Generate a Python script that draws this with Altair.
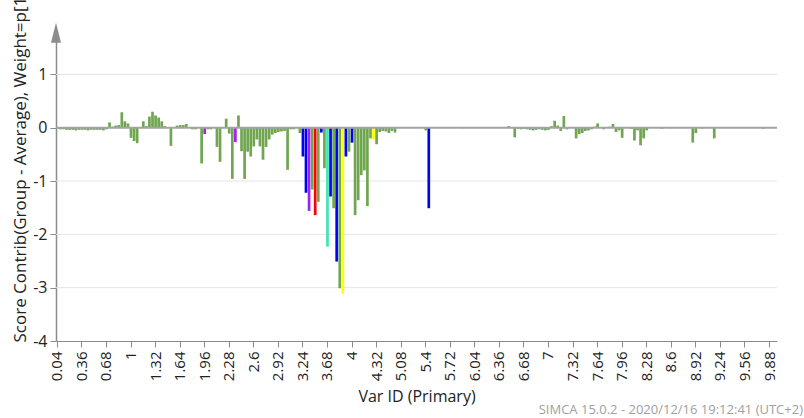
import altair as alt
import pandas as pd

# ---------------- data ----------------
tick_labels = ["0.04", "0.36", "0.68", "1", "1.32", "1.64", "1.96", "2.28", "2.6", "2.92",
               "3.24", "3.68", "4", "4.32", "5.08", "5.4", "5.72", "6.04", "6.36", "6.68",
               "7", "7.32", "7.64", "7.96", "8.28", "8.6", "8.92", "9.24", "9.56", "9.88"]

values = [
    -0.02, -0.03, -0.03, -0.04, -0.04, -0.04, -0.05, -0.04,
    -0.04, -0.04, -0.05, -0.04, -0.04, -0.04, -0.04, -0.05,
    -0.03, 0.10, 0.02, 0.04, 0.05, 0.29, 0.12, 0.08,
    -0.19, -0.25, -0.29, 0.00, 0.12, 0.03, 0.21, 0.30,
    0.23, 0.19, 0.12, 0.03, 0.00, -0.34, 0.01, 0.04,
    0.05, 0.05, 0.07, 0.00, -0.03, -0.03, 0.00, -0.67,
    -0.12, -0.03, -0.03, 0.00, -0.36, -0.64, 0.00, 0.17,
    -0.11, -0.96, -0.27, 0.23, -0.44, -0.96, -0.45, -0.54,
    -0.35, -0.22, -0.35, -0.60, -0.36, -0.22, -0.13, -0.10,
    -0.08, -0.07, -0.06, -0.79, -0.03, -0.03, 0.00, -0.10,
    -0.54, -1.22, -1.56, -1.16, -1.64, -1.39, -0.09, -0.76,
    -2.23, -1.29, -1.51, -2.51, -3.01, -3.11, -0.54, -0.45,
    -0.28, -1.64, -1.36, -0.89, -0.80, -1.47, -0.20, -0.22,
    -0.31, -0.08, -0.06, -0.07, -0.10, -0.06, -0.09, 0.00,
    0.00, 0.00, 0.00, 0.00, 0.00, 0.00, 0.00, 0.00,
    -0.05, -1.51, 0.00, 0.00, 0.00, 0.00, 0.00, 0.00,
    0.00, 0.00, 0.00, 0.00, -0.01, 0.00, 0.00, 0.00,
    0.00, 0.00, 0.00, 0.00, 0.00, 0.00, 0.00, 0.00,
    0.00, 0.00, 0.00, 0.03, 0.00, -0.18, -0.02, -0.03,
    -0.02, -0.03, -0.04, -0.05, -0.04, -0.03, -0.04, -0.05,
    -0.04, 0.03, 0.13, 0.04, -0.06, 0.22, -0.03, 0.00,
    0.00, -0.20, -0.12, -0.10, -0.06, -0.05, -0.03, 0.02,
    0.08, 0.01, -0.03, 0.00, 0.02, 0.07, -0.08, -0.05,
    -0.19, 0.00, 0.00, -0.02, -0.24, -0.05, -0.33, -0.20,
    -0.05, 0.00, 0.00, 0.00, 0.00, -0.02, 0.00, 0.00,
    -0.01, 0.00, 0.00, 0.00, 0.00, 0.00, 0.00, -0.28,
    -0.10, 0.00, -0.02, 0.00, 0.00, 0.00, -0.20, 0.00,
    0.00, 0.00, 0.00, 0.00, 0.00, 0.00, 0.00, 0.00,
    0.00, 0.00, 0.00, 0.00, 0.00, 0.00, -0.02, 0.00,
    0.00, 0.00, 0.00,
]

highlight_index = [48, 58, 80, 81, 82, 84, 86, 88, 89, 91, 93, 94, 96, 103, 121]
highlight_color = ["purple", "purple", "blue", "blue", "purple", "red", "blue", "cyan",
                   "blue", "blue", "yellow", "blue", "blue", "yellow", "blue"]

color_names = ["green", "blue", "purple", "red", "cyan", "yellow"]
color_values = ["#6fa64f", "#0000ff", "#a020f0", "#ff0000", "#3de6b4", "#ffff00"]

grid_values = [1, -1, -2, -3]
y_tick_values = [-4, -3.5, -3, -2.5, -2, -1.5, -1, -0.5, 0, 0.5, 1, 1.5]
footer = "SIMCA 15.0.2 - 2020/12/16 19:12:41 (UTC+2)"

# -------------- build table --------------
ids = []
for k, start in enumerate(tick_labels):
    count = 8 if k < len(tick_labels) - 1 else 3
    for j in range(count):
        ids.append(f"{round(float(start) + 0.04 * j, 2):g}")

groups = ["green"] * len(values)
for i, c in zip(highlight_index, highlight_color):
    groups[i] = c

df = pd.DataFrame({"id": ids, "value": values, "group": groups})

W, H = 721, 301
FONT = "Open Sans"
yscale = alt.Scale(domain=[-4, 1.645], nice=False, zero=False)

x_enc = alt.X(
    "id:N", sort=ids,
    scale=alt.Scale(paddingInner=0.12, paddingOuter=0),
    axis=alt.Axis(
        values=tick_labels, labelAngle=-90, labelFontSize=15, labelFont=FONT,
        labelColor="#222222", tickColor="#8c8c8c", domainColor="#8c8c8c",
        tickSize=6, labelPadding=4, title="Var ID (Primary)", titleFont=FONT,
        titleFontSize=16, titleFontWeight="normal", titleColor="#222222",
        titleY=60, titleBaseline="alphabetic", labelOverlap=False,
    ),
)

y_axis = alt.Axis(
    values=y_tick_values,
    labelExpr="datum.value % 1 === 0 ? '' + datum.value : ''",
    labelFontSize=16, labelFont=FONT, labelColor="#222222",
    tickColor="#8c8c8c", domainColor="#8c8c8c", domainWidth=1.5, tickSize=6,
    labelPadding=3, grid=False,
    title="Score Contrib(Group - Average), Weight=p[1]",
    titleFont=FONT, titleFontSize=17, titleFontWeight="normal", titleColor="#222222",
    titleAngle=-90, titleAlign="left", titleBaseline="alphabetic",
    titleX=-31, titleY=302,
)

grid = alt.Chart(pd.DataFrame({"y": grid_values})).mark_rule(
    color="#e4e4e4", strokeWidth=1
).encode(y=alt.Y("y:Q", scale=yscale, axis=y_axis))

bars = alt.Chart(df).mark_bar().encode(
    x=x_enc,
    y=alt.Y("value:Q", scale=yscale, axis=y_axis),
    color=alt.Color("group:N", scale=alt.Scale(domain=color_names, range=color_values), legend=None),
)

zero = alt.Chart(pd.DataFrame({"y": [0]})).mark_rule(
    color="#a3a3a3", strokeWidth=2
).encode(y=alt.Y("y:Q", scale=yscale))

arrow = alt.Chart(pd.DataFrame({"y": [1.78]})).mark_point(
    shape="M0,-1L0.5,1L-0.5,1Z", filled=True, size=400, color="#8c8c8c", opacity=1
).encode(x=alt.value(0), y=alt.Y("y:Q", scale=yscale))

foot = alt.Chart(pd.DataFrame({"t": [footer]})).mark_text(
    align="right", baseline="alphabetic", fontSize=13, font=FONT, color="#a0a0a0"
).encode(text="t:N", x=alt.value(747), y=alt.value(374))

chart = alt.layer(grid, bars, zero, arrow, foot).properties(
    width=W, height=H,
    autosize=alt.AutoSizeParams(type="none"),
    padding={"left": 56, "top": 40, "right": 27, "bottom": 77},
    background="white",
).configure_view(stroke=None)

chart.save("out.html", embed_options={"renderer": "svg", "actions": False})
